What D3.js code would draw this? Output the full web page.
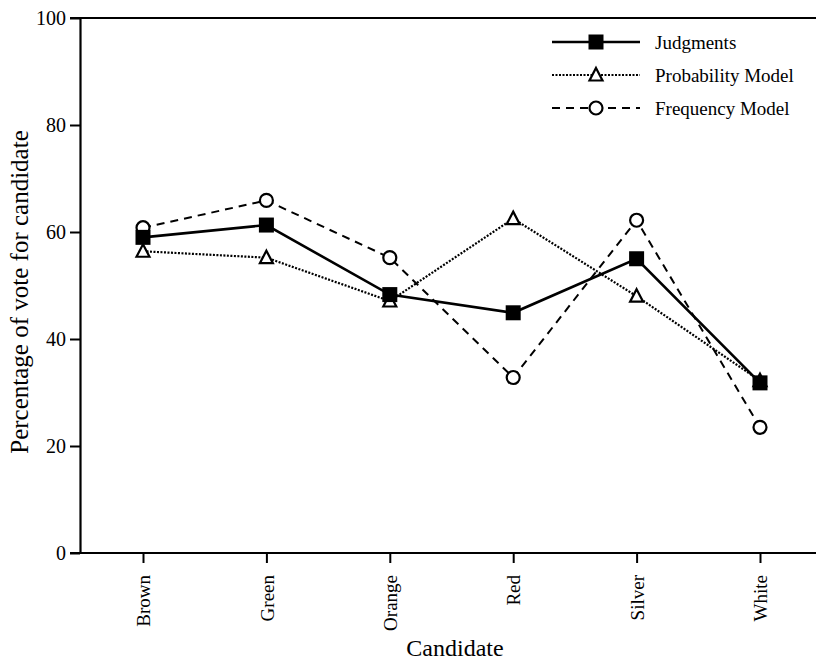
<!DOCTYPE html>
<html>
<head>
<meta charset="utf-8">
<script src="https://cdn.jsdelivr.net/npm/d3@7"></script>
<style>
  body { margin: 0; background: #fff; }
  text { font-family: "Liberation Serif", "DejaVu Serif", serif; fill: #000; }
</style>
</head>
<body>
<div id="graph"></div>
<script>
var candidates = ["Brown", "Green", "Orange", "Red", "Silver", "White"];
var judgments = [59, 61.3, 48.3, 44.9, 55, 31.8];
var probability = [56.4, 55.2, 47.1, 62.5, 48, 32.2];
var frequency = [60.8, 65.9, 55.2, 32.8, 62.2, 23.5];
var yTicks = [0, 20, 40, 60, 80, 100];

var series = [
  { name: "Judgments", values: judgments, dash: null, width: 2.6, marker: "square" },
  { name: "Probability Model", values: probability, dash: "2,1.5", width: 2.2, marker: "triangle" },
  { name: "Frequency Model", values: frequency, dash: "8,6", width: 2, marker: "circle" }
];

var svg = d3.select("#graph")
    .append("svg")
    .attr("width", 816)
    .attr("height", 663);

var x = d3.scalePoint().domain(candidates).range([143, 760]);
var y = d3.scaleLinear().domain([0, 100]).range([553, 18]);

// axes
svg.append("g")
  .attr("transform", "translate(80,0)")
  .call(d3.axisLeft(y).tickValues(yTicks).tickSize(10).tickSizeOuter(0))
  .call(function (g) {
    g.select(".domain").attr("stroke-width", 2.2);
    g.selectAll(".tick line").attr("stroke-width", 2);
    g.selectAll(".tick text").attr("x", -14)
      .style("font-size", "20px")
      .style("font-family", "Liberation Serif");
  });

svg.append("g")
  .attr("transform", "translate(0,553)")
  .call(d3.axisBottom(x).tickSize(10).tickSizeOuter(0))
  .call(function (g) {
    g.select(".domain").remove();
    g.selectAll(".tick line").attr("stroke-width", 2);
    g.selectAll(".tick text")
      .attr("transform", "rotate(-90)")
      .attr("x", -22).attr("y", 0).attr("dy", "0.35em")
      .attr("text-anchor", "end")
      .style("font-size", "19px")
      .style("font-family", "Liberation Serif");
  });

// x baseline and top frame line
svg.append("line").attr("x1", 70).attr("x2", 816)
  .attr("y1", y(0)).attr("y2", y(0)).attr("stroke", "#000").attr("stroke-width", 2.2);
svg.append("line").attr("x1", 70).attr("x2", 816)
  .attr("y1", y(100)).attr("y2", y(100)).attr("stroke", "#000").attr("stroke-width", 2.2);

// axis titles
svg.append("text")
  .attr("transform", "translate(28,292) rotate(-90)")
  .attr("text-anchor", "middle")
  .style("font-size", "25px")
  .text("Percentage of vote for candidate");

svg.append("text")
  .attr("x", 455).attr("y", 656)
  .attr("text-anchor", "middle")
  .style("font-size", "24px")
  .text("Candidate");

function drawMarker(g, type, cx, cy) {
  if (type === "square") {
    g.append("rect").attr("x", cx - 7.5).attr("y", cy - 7.5)
      .attr("width", 15).attr("height", 15).attr("fill", "#000");
  } else if (type === "triangle") {
    g.append("path")
      .attr("d", "M" + cx + "," + (cy - 7) + "L" + (cx + 6.5) + "," + (cy + 5.5) + "L" + (cx - 6.5) + "," + (cy + 5.5) + "Z")
      .attr("fill", "#fff").attr("stroke", "#000").attr("stroke-width", 2.2);
  } else {
    g.append("circle").attr("cx", cx).attr("cy", cy).attr("r", 6.5)
      .attr("fill", "#fff").attr("stroke", "#000").attr("stroke-width", 2.2);
  }
}

var line = d3.line()
  .x(function (d, i) { return x(candidates[i]); })
  .y(function (d) { return y(d); });

// draw lines (frequency first so judgments sits on top)
series.slice().reverse().forEach(function (s) {
  var g = svg.append("g");
  g.append("path")
    .attr("d", line(s.values))
    .attr("fill", "none")
    .attr("stroke", "#000")
    .attr("stroke-width", s.width)
    .attr("stroke-dasharray", s.dash);
  s.values.forEach(function (v, i) {
    drawMarker(g, s.marker, x(candidates[i]), y(v));
  });
});

// legend
var legendY = [42, 75, 108];
series.forEach(function (s, i) {
  var g = svg.append("g");
  g.append("line")
    .attr("x1", 552).attr("x2", 640)
    .attr("y1", legendY[i]).attr("y2", legendY[i])
    .attr("stroke", "#000")
    .attr("stroke-width", s.width)
    .attr("stroke-dasharray", s.dash);
  drawMarker(g, s.marker, 596, legendY[i]);
  g.append("text")
    .attr("x", 655).attr("y", legendY[i]).attr("dy", "0.35em")
    .style("font-size", "19px")
    .text(s.name);
});
</script>
</body>
</html>
